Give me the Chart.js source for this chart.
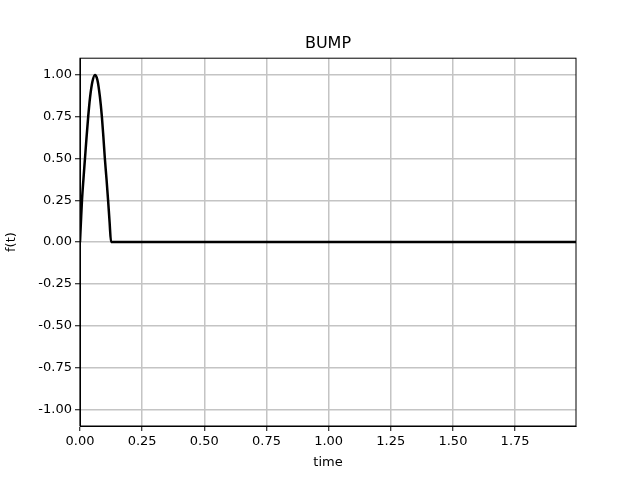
<!DOCTYPE html>
<html lang="en">
<head>
  <meta charset="UTF-8" />
  <title>BUMP</title>
  <script src="https://cdn.jsdelivr.net/npm/chart.js"></script>
  <style>
    body { margin: 0; background: #fff; }
    #wrap { width: 640px; height: 480px; }
  </style>
</head>
<body>
  <div id="wrap"><canvas id="bumpChart" width="640" height="480"></canvas></div>

  <script>
    // values
    const times = [0, 0.004, 0.008, 0.014, 0.02, 0.026, 0.033, 0.04, 0.05, 0.06, 0.07, 0.08, 0.088, 0.094, 0.1, 0.107, 0.113, 0.119, 0.125, 1.995];
    const values = [0, 0.13, 0.25, 0.38, 0.5, 0.62, 0.75, 0.86, 0.96, 1.0, 0.97, 0.87, 0.75, 0.63, 0.5, 0.37, 0.25, 0.12, 0, 0];
    const xTicks = [0, 0.25, 0.5, 0.75, 1.0, 1.25, 1.5, 1.75];
    const yTicks = [-1, -0.75, -0.5, -0.25, 0, 0.25, 0.5, 0.75, 1];

    const font = { family: 'DejaVu Sans', size: 13 };

    // full box round the plot, like the matplotlib frame
    const frame = {
      id: 'frame',
      afterDraw(chart) {
        const { ctx, chartArea: a } = chart;
        ctx.save();
        ctx.strokeStyle = '#000';
        ctx.lineWidth = 1;
        ctx.strokeRect(a.left, a.top, a.right - a.left, a.bottom - a.top);
        ctx.restore();
      }
    };

    const points = times.map((t, i) => ({ x: t, y: values[i] }));
    const gridStyle = { color: '#c4c4c4', lineWidth: 1.5, tickColor: '#000', tickWidth: 1, tickLength: 5 };

    new Chart(document.getElementById('bumpChart'), {
      type: 'line',
      data: {
        datasets: [{
          data: points,
          borderColor: '#000',
          borderWidth: 2.5,
          pointRadius: 0,
          cubicInterpolationMode: 'monotone',
          fill: false
        }]
      },
      options: {
        responsive: false,
        animation: false,
        layout: { padding: { left: 0, right: 64, top: 0, bottom: 0 } },
        scales: {
          x: {
            type: 'linear',
            min: 0,
            max: 1.995,
            afterBuildTicks: s => { s.ticks = xTicks.map(v => ({ value: v })); },
            afterFit: s => { s.height = 54; },
            ticks: { color: '#000', font, padding: 3, maxRotation: 0, callback: v => v.toFixed(2) },
            grid: gridStyle,
            border: { color: '#000' },
            title: { display: true, text: 'time', color: '#000', font, padding: { top: 4, bottom: 10 } }
          },
          y: {
            min: -1.1,
            max: 1.1,
            afterBuildTicks: s => { s.ticks = yTicks.map(v => ({ value: v })); },
            afterFit: s => { s.width = 80; },
            ticks: { color: '#000', font, padding: 3, callback: v => v.toFixed(2) },
            grid: gridStyle,
            border: { color: '#000' },
            title: { display: true, text: 'f(t)', color: '#000', font, padding: { top: 4, bottom: 4 } }
          }
        },
        plugins: {
          legend: { display: false },
          tooltip: { enabled: false },
          title: {
            display: true,
            fullSize: false,
            text: 'BUMP',
            color: '#000',
            font: { family: 'DejaVu Sans', size: 16, weight: 'normal' },
            padding: { top: 34, bottom: 5 }
          }
        }
      },
      plugins: [frame]
    });
  </script>
</body>
</html>
